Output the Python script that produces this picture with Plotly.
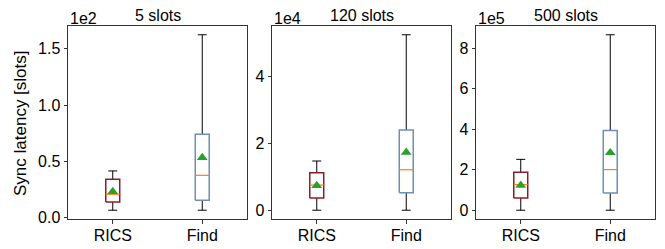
import plotly.graph_objects as go

# ---- data (sync latency in slots) ----
categories = ["RICS", "Find"]
panel_titles = ["5 slots", "120 slots", "500 slots"]
scale_exp = [2, 4, 5]

# per panel: [RICS, Find]
whisker_low = [[6.5, 6.5], [0, 0], [0, 0]]
q1_vals = [[13.8, 15.4], [3660, 5250], [60600, 85300]]
median_vals = [[20.7, 37.5], [7550, 12140], [126700, 200600]]
q3_vals = [[34.0, 74.0], [11240, 24040], [187300, 394000]]
whisker_high = [[41.4, 162.4], [14750, 52600], [251000, 866000]]
mean_vals = [[23.1, 53.3], [7400, 17360], [123000, 284000]]

y_ticks = [[0, 0.5, 1.0, 1.5], [0, 2, 4], [0, 2, 4, 6, 8]]
y_tickformat = [".1f", "d", "d"]

box_edge = ["#8b1c2a", "#6d8fb3"]
FONT = "Liberation Sans, Arial, sans-serif"

# page body has an 8px default margin; compensate so the plot lands where the reference has it
PAGE_OFF = 8

fig = go.Figure()

plot_left, plot_right = 68, 655
total_w = plot_right - plot_left
panel_w, gap = 179, 25
domains = []
for i in range(3):
    a = (i * (panel_w + gap)) / total_w
    b = (i * (panel_w + gap) + panel_w) / total_w
    domains.append([a, min(b, 1.0)])

half_box = 0.078
half_cap = 0.05

for p in range(3):
    xa = "x" if p == 0 else f"x{p+1}"
    ya = "y" if p == 0 else f"y{p+1}"
    s = 10 ** scale_exp[p]
    for c, cat in enumerate(categories):
        pos = c + 1
        lo = whisker_low[p][c] / s
        hi = whisker_high[p][c] / s
        q1 = q1_vals[p][c] / s
        q3 = q3_vals[p][c] / s
        med = median_vals[p][c] / s
        mn = mean_vals[p][c] / s
        fig.add_trace(go.Scatter(
            x=[pos, pos, None, pos, pos, None,
               pos - half_cap, pos + half_cap, None, pos - half_cap, pos + half_cap],
            y=[lo, q1, None, q3, hi, None, lo, lo, None, hi, hi],
            mode="lines", line=dict(color="black", width=1),
            xaxis=xa, yaxis=ya, showlegend=False, hoverinfo="skip"))
        fig.add_trace(go.Scatter(
            x=[pos - half_box, pos + half_box, pos + half_box, pos - half_box, pos - half_box],
            y=[q1, q1, q3, q3, q1],
            mode="lines", fill="toself", fillcolor="white",
            line=dict(color=box_edge[c], width=1.5),
            xaxis=xa, yaxis=ya, showlegend=False, hoverinfo="skip"))
        fig.add_trace(go.Scatter(
            x=[pos - half_box, pos + half_box], y=[med, med],
            mode="lines", line=dict(color="#ff7f0e", width=1.2),
            xaxis=xa, yaxis=ya, showlegend=False, hoverinfo="skip"))
        fig.add_trace(go.Scatter(
            x=[pos], y=[mn], mode="markers",
            marker=dict(symbol="triangle-up", color="#2ca02c", size=9.5),
            xaxis=xa, yaxis=ya, showlegend=False, hoverinfo="skip"))

    lo_all = min(whisker_low[p]) / s
    hi_all = max(whisker_high[p]) / s
    m = 0.05 * (hi_all - lo_all)
    axis_common = dict(showline=True, mirror=True, linecolor="#333", linewidth=1,
                       ticks="outside", ticklen=3.5, tickcolor="#333", showgrid=False,
                       zeroline=False, automargin=False,
                       tickfont=dict(family=FONT, size=16, color="black"))
    xkey = "xaxis" if p == 0 else f"xaxis{p+1}"
    ykey = "yaxis" if p == 0 else f"yaxis{p+1}"
    fig.update_layout(**{
        xkey: dict(domain=domains[p], range=[0.5, 2.5], tickvals=[1, 2],
                   ticktext=categories, anchor=ya, ticklabelstandoff=-2, **axis_common),
        ykey: dict(domain=[0, 1], range=[lo_all - m, hi_all + m], tickvals=y_ticks[p],
                   tickformat=y_tickformat[p], anchor=xa, **axis_common),
    })
    fig.add_annotation(text=f"1e{scale_exp[p]}", xref="paper", yref="paper",
                       x=domains[p][0], y=1, xanchor="left", yanchor="bottom",
                       showarrow=False, font=dict(family=FONT, size=16, color="black"),
                       yshift=-3)
    fig.add_annotation(text=panel_titles[p], xref="paper", yref="paper",
                       x=(domains[p][0] + domains[p][1]) / 2, y=1, xanchor="center",
                       yanchor="bottom", showarrow=False,
                       font=dict(family=FONT, size=16, color="black"), yshift=0)

fig.add_annotation(text="Sync latency [slots]", xref="paper", yref="paper",
                   x=0, y=0.5, xanchor="right", yanchor="middle", xshift=-36,
                   textangle=-90, showarrow=False,
                   font=dict(family=FONT, size=17, color="black"))

fig.update_layout(
    width=665 - PAGE_OFF, height=249 - PAGE_OFF,
    margin=dict(l=68 - PAGE_OFF, r=10, t=26 - PAGE_OFF, b=30, autoexpand=False),
    plot_bgcolor="white", paper_bgcolor="white",
    font=dict(family=FONT, size=16, color="black"),
)

fig.write_html("out.html")
